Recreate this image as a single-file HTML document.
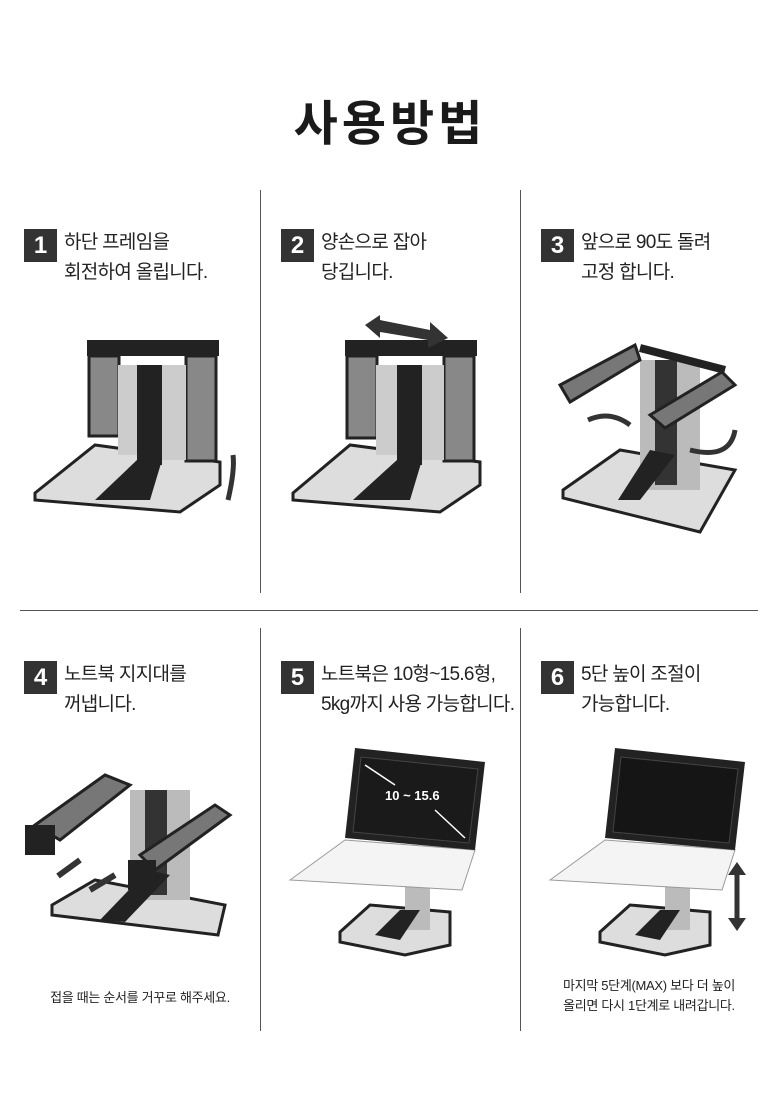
<!DOCTYPE html>
<html><head><meta charset="utf-8"><style>
body{margin:0;background:#fff;}
#p{position:relative;width:780px;height:1116px;overflow:hidden;font-family:"Liberation Sans","Noto Sans CJK KR",sans-serif;color:#222;}
.t{position:absolute;left:0;width:780px;top:84px;text-align:center;font-size:48px;font-weight:bold;letter-spacing:4px;color:#1a1a1a;}
.n{position:absolute;width:33px;height:33px;background:#333;color:#fff;font-weight:bold;font-size:24px;line-height:33px;text-align:center;}
.s{position:absolute;font-size:19px;line-height:30px;color:#222;white-space:nowrap;letter-spacing:-0.7px;}
.v{position:absolute;width:1px;background:#555;}
.note{position:absolute;font-size:13px;line-height:20px;text-align:center;color:#222;letter-spacing:-0.3px;}
svg{position:absolute;left:0;top:0;}
</style></head><body><div id="p">
<div class="t">사용방법</div>
<div class="v" style="left:260px;top:190px;height:403px"></div>
<div class="v" style="left:520px;top:190px;height:403px"></div>
<div class="v" style="left:260px;top:628px;height:403px"></div>
<div class="v" style="left:520px;top:628px;height:403px"></div>
<div style="position:absolute;left:20px;top:610px;width:738px;height:1px;background:#555"></div>

<div class="n" style="left:24px;top:229px">1</div><div class="s" style="left:64px;top:228px">하단 프레임을<br>회전하여 올립니다.</div>
<div class="n" style="left:281px;top:229px">2</div><div class="s" style="left:321px;top:228px">양손으로 잡아<br>당깁니다.</div>
<div class="n" style="left:541px;top:229px">3</div><div class="s" style="left:581px;top:228px">앞으로 90도 돌려<br>고정 합니다.</div>
<div class="n" style="left:24px;top:661px">4</div><div class="s" style="left:64px;top:660px">노트북 지지대를<br>꺼냅니다.</div>
<div class="n" style="left:281px;top:661px">5</div><div class="s" style="left:321px;top:660px">노트북은 10형~15.6형,<br>5kg까지 사용 가능합니다.</div>
<div class="n" style="left:541px;top:661px">6</div><div class="s" style="left:581px;top:660px">5단 높이 조절이<br>가능합니다.</div>

<div class="note" style="left:20px;width:240px;top:988px">접을 때는 순서를 거꾸로 해주세요.</div>
<div class="note" style="left:520px;width:258px;top:976px">마지막 5단계(MAX) 보다 더 높이<br>올리면 다시 1단계로 내려갑니다.</div>

<svg width="780" height="1116">
<!-- 1 -->
<path d="M35,493 L95,445 L220,462 L220,485 L180,512 L35,500Z" fill="#ddd" stroke="#222" stroke-width="3"/>
<rect x="87" y="340" width="132" height="16" fill="#222"/>
<rect x="89" y="356" width="30" height="80" fill="#888" stroke="#222" stroke-width="3"/>
<rect x="186" y="356" width="30" height="105" fill="#888" stroke="#222" stroke-width="3"/>
<rect x="118" y="365" width="24" height="90" fill="#ccc"/><rect x="162" y="365" width="24" height="95" fill="#ccc"/>
<rect x="137" y="365" width="25" height="100" fill="#222"/>
<path d="M95,500 L137,460 L162,460 L150,500Z" fill="#222"/>
<path d="M228,500 Q235,470 233,455" stroke="#333" stroke-width="5" fill="none"/>
<!-- 2 -->
<path d="M293,493 L350,445 L480,462 L480,485 L440,512 L293,500Z" fill="#ddd" stroke="#222" stroke-width="3"/>
<rect x="345" y="340" width="132" height="16" fill="#222"/>
<rect x="347" y="356" width="30" height="82" fill="#888" stroke="#222" stroke-width="3"/>
<rect x="444" y="356" width="30" height="105" fill="#888" stroke="#222" stroke-width="3"/>
<rect x="376" y="365" width="24" height="90" fill="#ccc"/><rect x="420" y="365" width="24" height="95" fill="#ccc"/>
<rect x="397" y="365" width="25" height="100" fill="#222"/>
<path d="M353,500 L397,460 L422,460 L410,500Z" fill="#222"/>
<path d="M365,325 L380,315 L380,320 L430,330 L430,322 L448,338 L428,348 L428,340 L380,332 L380,338Z" fill="#333"/>
<!-- 3 -->
<path d="M563,490 L620,450 L735,470 L700,532 L563,498Z" fill="#ddd" stroke="#222" stroke-width="3"/>
<rect x="640" y="360" width="60" height="130" fill="#bbb"/><rect x="655" y="360" width="22" height="125" fill="#333"/>
<path d="M560,385 L635,345 L640,360 L570,402Z" fill="#777" stroke="#222" stroke-width="3"/>
<path d="M650,415 L722,372 L735,385 L665,428Z" fill="#777" stroke="#222" stroke-width="3"/>
<path d="M640,348 L725,370" stroke="#222" stroke-width="8"/>
<path d="M618,500 L650,450 L675,455 L640,500Z" fill="#222"/>
<path d="M630,425 Q610,410 588,420" stroke="#333" stroke-width="5" fill="none"/>
<path d="M735,430 Q730,460 690,450" stroke="#333" stroke-width="5" fill="none"/>
<!-- 4 -->
<path d="M52,905 L95,880 L225,905 L218,935 L52,915Z" fill="#ddd" stroke="#222" stroke-width="3"/>
<rect x="130" y="790" width="60" height="110" fill="#bbb"/><rect x="145" y="790" width="22" height="105" fill="#333"/>
<path d="M35,825 L105,775 L130,785 L60,840Z" fill="#777" stroke="#222" stroke-width="3"/>
<path d="M140,855 L215,805 L230,815 L155,870Z" fill="#777" stroke="#222" stroke-width="3"/>
<rect x="25" y="825" width="30" height="30" fill="#222"/><rect x="128" y="860" width="28" height="30" fill="#222"/>
<path d="M100,920 L148,870 L170,875 L125,922Z" fill="#222"/>
<path d="M80,860 L58,876 M115,875 L90,890" stroke="#333" stroke-width="6"/>
<!-- 5 -->
<path d="M340,932 L370,905 L450,912 L450,945 L405,955 L340,942Z" fill="#ddd" stroke="#222" stroke-width="3"/>
<rect x="405" y="885" width="25" height="45" fill="#bbb"/>
<path d="M375,935 L400,910 L420,910 L400,940Z" fill="#222"/>
<path d="M290,880 L345,840 L475,850 L462,890Z" fill="#f4f4f4" stroke="#999"/>
<path d="M345,838 L355,748 L485,762 L475,850Z" fill="#222"/>
<path d="M353,832 L361,757 L478,769 L469,843Z" fill="#1a1a1a" stroke="#444"/>
<text x="385" y="800" font-family="Liberation Sans" font-size="13" font-weight="bold" fill="#fff">10 ~ 15.6</text>
<path d="M365,765 L395,785 M435,810 L465,838" stroke="#fff" stroke-width="1.5"/>
<!-- 6 -->
<path d="M600,932 L630,905 L710,912 L710,945 L665,955 L600,942Z" fill="#ddd" stroke="#222" stroke-width="3"/>
<rect x="665" y="885" width="25" height="45" fill="#bbb"/>
<path d="M635,935 L660,910 L680,910 L660,940Z" fill="#222"/>
<path d="M550,880 L605,840 L735,850 L722,890Z" fill="#f4f4f4" stroke="#999"/>
<path d="M605,838 L615,748 L745,762 L735,850Z" fill="#222"/>
<path d="M613,832 L621,757 L738,769 L729,843Z" fill="#151515" stroke="#444"/>
<path d="M737,868 L737,925" stroke="#333" stroke-width="5"/>
<path d="M728,875 L737,862 L746,875Z M728,918 L737,931 L746,918Z" fill="#333"/>
</svg>
</div></body></html>
